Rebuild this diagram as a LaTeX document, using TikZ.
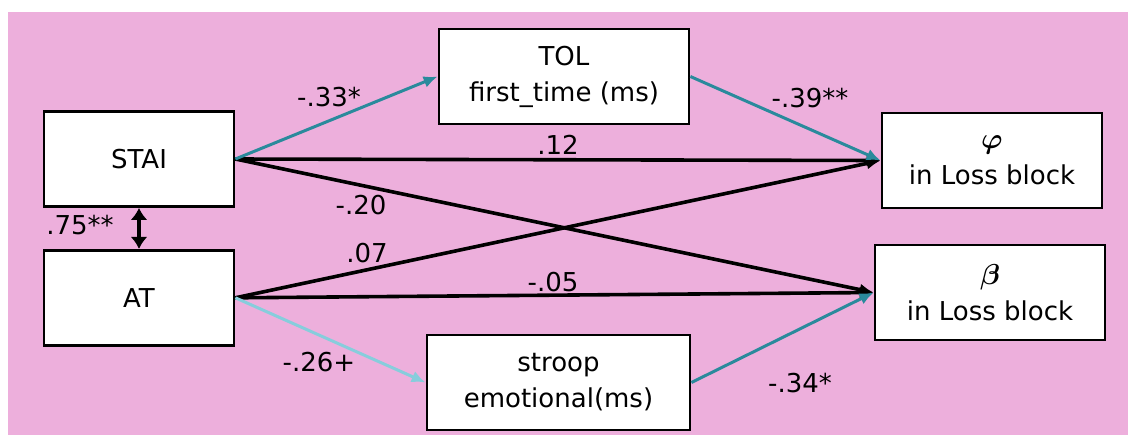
\documentclass[tikz,border=0pt]{standalone}
\usepackage{fontspec}
\setmainfont{DejaVu Sans}
\usepackage{bm}
\usetikzlibrary{arrows.meta,positioning}

\definecolor{bgpink}{RGB}{237,175,220}
\definecolor{pathteal}{RGB}{42,138,156}
\definecolor{pathlight}{RGB}{135,205,220}

\newcommand{\outsym}[1]{{\fontsize{15}{18}\selectfont$\bm{#1}$}}

\begin{document}
\begin{tikzpicture}[x=0.5pt, y=-0.5pt, font=\fontsize{13}{18}\selectfont,
    >={Latex[length=7pt,width=6pt]}, every node/.style={align=center}]
    \tikzset{
      varbox/.style={
        draw,
        fill=white,
        line width=1.4pt,
        inner sep=0pt,
        minimum height=47.5pt
      },
      effect/.style={->, line width=1.8pt},
      mediated/.style={->, line width=1.5pt, pathteal}
    }
    \useasboundingbox (0,0) rectangle (1131,435);
    \fill[bgpink] (8,12) rectangle (1128,435);

    % predictors, mediators, outcomes
    \node[varbox, minimum width=95pt] (stai) at (139,159) {STAI};
    \node[varbox, minimum width=95pt, below=20.5pt of stai] (at) {AT};
    \node[varbox, minimum width=125pt] (tol) at (564,76.5) {TOL\\first\_time (ms)};
    \node[varbox, minimum width=131.5pt] (stroop) at (558.5,382.5) {stroop\\emotional(ms)};
    \node[varbox, minimum width=110pt] (phi) at (992,160.5) {\outsym{\varphi}\\in Loss block};
    \node[varbox, minimum width=115pt] (beta) at (990,292.5) {\outsym{\beta}\\in Loss block};

    % direct paths
    \draw[effect] (stai.east) -- (phi.west);
    \draw[effect] (stai.east) -- (beta.west);
    \draw[effect] (at.east) -- (phi.west);
    \draw[effect] (at.east) -- (beta.west);
    \draw[<->, line width=1.8pt, >={Latex[length=6pt,width=8.5pt]}] (stai) -- (at);

    % indirect paths
    \draw[mediated] (stai.east) -- (tol.west);
    \draw[mediated] (tol.east) -- (phi.west);
    \draw[mediated, pathlight] (at.east) -- (stroop.west);
    \draw[mediated] (stroop.east) -- (beta.west);

    % coefficients
    \node (c33) at (329,97) {-.33*};
    \node (c39) at (810,98) {-.39**};
    \node (c12) at (558,145) {.12};
    \node (c20) at (361,205) {-.20};
    \node (c07) at (367,253) {.07};
    \node (c05) at (553,282) {-.05};
    \node (c26) at (319,362) {-.26+};
    \node (c34) at (800,383) {-.34*};
    \node (c75) at (80,225) {.75**};
  \end{tikzpicture}
\end{document}
